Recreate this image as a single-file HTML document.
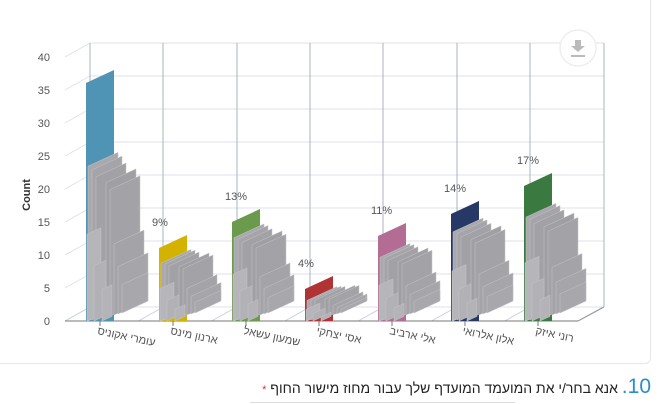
<!DOCTYPE html>
<html><head><meta charset="utf-8">
<style>
html,body{margin:0;padding:0;background:#fff;width:661px;height:404px;overflow:hidden;font-family:"Liberation Sans","Noto Sans CJK SC",sans-serif;}
#card{position:absolute;left:-10px;top:-10px;width:659px;height:372px;border:1px solid #e6e6e6;border-radius:6px;}
#title{position:absolute;right:10px;top:375px;direction:rtl;font-size:14px;color:#222;white-space:nowrap;}
#title .n{color:#2a8fc7;font-size:21px;}
#title .s{color:#d33;font-size:11px;}
#line{position:absolute;left:250px;top:402px;width:265px;height:1px;background:#ddd;}
</style></head><body>
<div id="card"></div>
<svg id="s" width="661" height="404" style="position:absolute;left:0;top:0" xmlns="http://www.w3.org/2000/svg">
<g id="grid" stroke="#dde2ea" stroke-width="1" fill="none"></g>
<g id="bars"></g>
<g id="txt" font-family="Liberation Sans, sans-serif" font-size="11" fill="#555"></g>
<circle cx="578" cy="48" r="18" fill="#fff" stroke="#eee" stroke-width="1.5"/>
<path d="M575 40h6v6h4l-7 6-7-6h4z M571 55h14v2h-14z" fill="#bbb"/>
<text x="0" y="0" transform="translate(30,195) rotate(-90)" text-anchor="middle" font-family="Liberation Sans, sans-serif" font-size="11" font-weight="bold" fill="#333">Count</text>
</svg>
<div id="title"><span class="n">10.</span> אנא בחר/י את המועמד המועדף שלך עבור מחוז מישור החוף <span class="s">*</span></div>
<div id="line"></div>
<script>
const NS="http://www.w3.org/2000/svg";
function el(p,t,a,txt){const e=document.createElementNS(NS,t);for(const k in a)e.setAttribute(k,a[k]);if(txt)e.textContent=txt;document.getElementById(p).appendChild(e);return e;}
for(let k=0;k<=8;k++){
  const yb=307-33*k, yf=321-33*k;
  el('grid','line',{x1:90,y1:yb,x2:604,y2:yb});
  el('grid','line',{x1:65,y1:yf,x2:90,y2:yb});
  el('txt','text',{x:50,y:yf+4,'text-anchor':'end'},String(5*k));
}
const vx=[90,163,237,310,383,457,530,604];
vx.forEach(x=>el('grid','line',{x1:x,y1:43,x2:x,y2:307,stroke:'#a9b3c4'}));
for(let i=0;i<8;i++){const x=65+73.3*i; el('grid','line',{x1:x,y1:321,x2:x+25,y2:307,stroke:'#c8cfdb'});}
el('grid','line',{x1:65,y1:321,x2:578,y2:321,stroke:'#777'});
el('grid','line',{x1:578,y1:321,x2:604,y2:307,stroke:'#999'});
const cats=[
 {L:86,t:83,c:'#4f93b5',g:163,p:''},
 {L:159,t:248,c:'#d4b300',g:262,p:'9%'},
 {L:232,t:222,c:'#6a9a4c',g:236,p:'13%'},
 {L:305,t:289,c:'#b03434',g:300,p:'4%'},
 {L:378,t:236,c:'#b36c93',g:256,p:'11%'},
 {L:451,t:214,c:'#253866',g:230,p:'14%'},
 {L:524,t:186,c:'#3a7a40',g:215,p:'17%'}];
const names=['עומרי אקוניס','ארנון מינס','שמעון עשאל','אסי יצחקי','אלי ארביב','אלון אלרואי','רוני איזק'];
function para(x,yb,w,h,fill){const s=w*0.46;
 el('bars','polygon',{points:`${x},${yb} ${x+w},${yb-s} ${x+w},${yb-s-h} ${x},${yb-h}`,fill:fill,stroke:'#c4c4c8','stroke-width':0.5});}
cats.forEach((c,i)=>{
 el('bars','polygon',{points:`${c.L},321 ${c.L+28},321 ${c.L+28},${c.t-13} ${c.L},${c.t}`,fill:c.c});
 const H=321-c.g;
 para(c.L+2,321,30,H*0.98,'#a9a9ad');
 para(c.L+6,320,30,H*0.95,'#a5a5a9');
 para(c.L+10,319,30,H*0.9,'#a2a2a6');
 para(c.L+20,317,30,H*0.85,'#a0a0a4');
 para(c.L+24,316,30,H*0.8,'#a3a3a7');
 para(c.L+28,315,30,H*0.45,'#a4a4a8');
 para(c.L+32,314,30,H*0.3,'#a6a6aa');
 para(c.L+36,313,26,H*0.18,'#a8a8ac');
 para(c.L+1,321,14,H*0.55,'#b6b6ba');
 para(c.L+8,321,12,H*0.35,'#b2b2b6');
 para(c.L+16,321,10,H*0.2,'#b4b4b8');
 if(c.p) el('txt','text',{x:c.L-7,y:c.t-22},c.p);
 const cx=c.L+14;
 el('grid','line',{x1:cx,y1:321,x2:cx,y2:326,stroke:'#777'});
 el('txt','text',{x:cx-3,y:334,'text-anchor':'start','font-family':'Liberation Sans, Noto Sans CJK SC, sans-serif',transform:`rotate(12 ${cx-3} 334)`},names[i]);
});
</script>
</body></html>
